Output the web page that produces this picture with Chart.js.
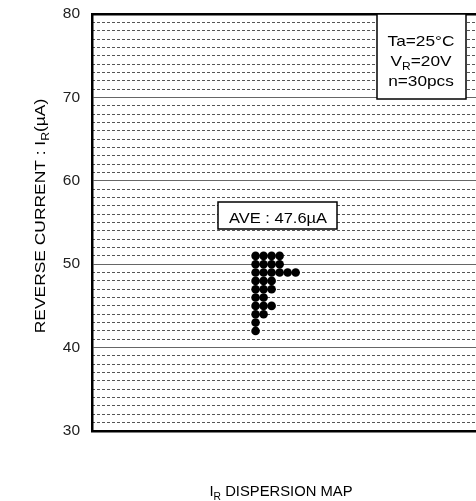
<!DOCTYPE html>
<html>
<head>
<meta charset="utf-8">
<script src="https://cdn.jsdelivr.net/npm/chart.js@4.4.0/dist/chart.umd.min.js"></script>
<style>
html,body{margin:0;padding:0;background:#fff;overflow:hidden;}
#wrap{width:476px;height:501px;overflow:hidden;}
canvas{display:block;}
</style>
</head>
<body>
<div id="wrap"><canvas id="c" width="490" height="501"></canvas></div>
<script>
// Data
const levels = [51, 50, 49, 48, 47, 46, 45, 44, 43, 42]; // I_R in µA
const counts = [4, 4, 6, 3, 3, 2, 3, 2, 1, 1];          // dots per level
const yTicks = [30, 40, 50, 60, 70, 80];
const aveLabel = 'AVE : 47.6µA';
const condLines = [['Ta=25°C'], ['V', 'R', '=20V'], ['n=30pcs']];

const points = [];
levels.forEach((v, i) => { for (let k = 0; k < counts[i]; k++) points.push({x: k, y: v}); });

const FONT = '"Liberation Sans", Arial, sans-serif';

// draws main + subscript + rest, stretched horizontally by sx
function subText(ctx, parts, x, y, size, sx) {
  const main = parts[0], sub = parts[1] || '', rest = parts[2] || '';
  ctx.font = size + 'px ' + FONT;
  const w1 = ctx.measureText(main).width;
  const w3 = ctx.measureText(rest).width;
  ctx.font = (size * 0.7) + 'px ' + FONT;
  const w2 = ctx.measureText(sub).width;
  const total = w1 + w2 + w3;
  ctx.save();
  ctx.translate(x, y);
  ctx.scale(sx, 1);
  const s0 = -total / 2;
  ctx.textAlign = 'left';
  ctx.textBaseline = 'alphabetic';
  ctx.font = size + 'px ' + FONT;
  ctx.fillText(main, s0, 0);
  if (sub) {
    ctx.font = (size * 0.7) + 'px ' + FONT;
    ctx.fillText(sub, s0 + w1, size * 0.25);
  }
  if (rest) {
    ctx.font = size + 'px ' + FONT;
    ctx.fillText(rest, s0 + w1 + w2, 0);
  }
  ctx.restore();
}

const decor = {
  id: 'decor',
  afterDatasetsDraw(chart) {
    const ctx = chart.ctx;
    const a = chart.chartArea;
    ctx.save();
    // AVE box
    ctx.fillStyle = '#fff';
    ctx.fillRect(218, 202, 119, 27);
    ctx.strokeStyle = '#000';
    ctx.lineWidth = 1.5;
    ctx.strokeRect(218, 202, 119, 27);
    ctx.fillStyle = '#000';
    subText(ctx, [aveLabel], 278, 222.5, 15, 1.1);
    // Conditions box
    ctx.fillStyle = '#fff';
    ctx.fillRect(377, a.top, 89, 99 - a.top);
    ctx.strokeRect(377, a.top, 89, 99 - a.top);
    ctx.fillStyle = '#000';
    const cy = [46, 66, 86];
    condLines.forEach((p, i) => subText(ctx, p, 421, cy[i], 15, 1.15));
    // Axis titles
    ctx.save();
    ctx.translate(45, 216);
    ctx.rotate(-Math.PI / 2);
    subText(ctx, ['REVERSE CURRENT : I', 'R', '(µA)'], 0, 0, 14.5, 1.2);
    ctx.restore();
    subText(ctx, ['I', 'R', ' DISPERSION MAP'], 281, 496, 14.5, 1.02);
    ctx.restore();
  }
};

new Chart(document.getElementById('c'), {
  type: 'scatter',
  data: {
    datasets: [{
      data: points,
      backgroundColor: '#000',
      borderColor: '#000',
      pointRadius: 4.3,
      pointHoverRadius: 4.3,
      borderWidth: 0
    }]
  },
  options: {
    responsive: false,
    animation: false,
    events: [],
    layout: {padding: {top: 14, right: 0, bottom: 70, left: 0}},
    plugins: {legend: {display: false}, tooltip: {enabled: false}},
    scales: {
      x: {
        type: 'linear', position: 'bottom', min: -20.4, max: 28.7,
        ticks: {display: false}, grid: {display: false, drawTicks: false},
        border: {display: true, color: '#000', width: 2.5},
        afterFit(s) { s.height = 0; s.paddingLeft = 0; s.paddingRight = 0; }
      },
      xTop: {
        type: 'linear', position: 'top', min: -20.4, max: 28.7,
        ticks: {display: false}, grid: {display: false, drawTicks: false},
        border: {display: true, color: '#000', width: 2.5},
        afterFit(s) { s.height = 0; s.paddingLeft = 0; s.paddingRight = 0; }
      },
      yMinor: {
        type: 'linear', position: 'left', min: 30, max: 80,
        ticks: {display: false, stepSize: 1},
        grid: {
          drawTicks: false, lineWidth: 1,
          color: c => (c.tick && c.tick.value % 10 === 0) ? 'rgba(0,0,0,0)' : '#555'
        },
        border: {display: false, dash: [3, 2]},
        afterFit(s) { s.width = 0; s.paddingTop = 0; s.paddingBottom = 0; }
      },
      y: {
        type: 'linear', position: 'left', min: 30, max: 80,
        afterBuildTicks(s) { s.ticks = yTicks.map(v => ({value: v})); },
        ticks: {color: '#222', font: {family: FONT, size: 15.5}, padding: 12},
        grid: {
          drawTicks: false, lineWidth: 1,
          color: c => (c.tick && (c.tick.value === 30 || c.tick.value === 80)) ? 'rgba(0,0,0,0)' : '#666'
        },
        border: {display: true, color: '#000', width: 2.5},
        afterFit(s) { s.width = 92; s.paddingTop = 0; s.paddingBottom = 0; }
      }
    }
  },
  plugins: [decor]
});
</script>
</body>
</html>
